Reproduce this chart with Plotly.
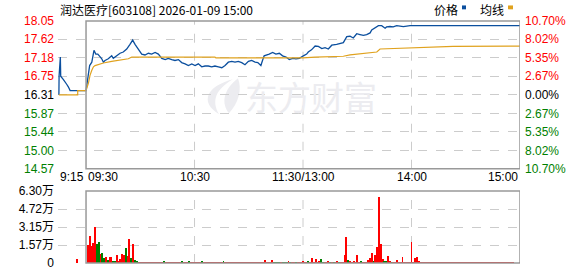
import plotly.graph_objects as go

# ---------------- data ----------------
title_text = "润达医疗[603108] 2026-01-09 15:00"
prev_close = 16.31

# minutes from 09:30 (negative = pre-market 9:15-9:30; afternoon continues 120..240)
price_time = [-15, -14.9, -14.2, -14.0, -12.5, -11.6, -10.7, -9.8, -8.8, 0,
              1.3, 2, 3.2, 3.7, 4.4, 5.4, 6.5, 7.7, 8.7, 9.6, 10.5, 12.3, 14.2, 15.1, 17.0,
              18.8, 20.6, 22.5, 24.3, 25.8, 27.1, 28.9, 30.8, 32.6, 34.5, 36.3, 38.2, 40.0,
              41.9, 43.8, 45.5, 47.4, 49.2, 51.1, 52.9, 54.8, 56.6, 58.5, 60.3, 62.1, 64.0,
              65.8, 67.6, 69.5, 71.3, 73.2, 75.1, 76.9, 78.7, 80.6, 82.4, 84.2, 86.1, 87.9,
              89.8, 91.6, 93.5, 95, 96.7, 97.6, 98.5, 101.3, 103.2, 105, 106.9, 108.7, 110.6,
              112.4, 114.3, 116.1, 118, 120.2, 122.0, 122.9, 124.7, 126.7, 128.5, 130.4, 132.2,
              134.0, 135.9, 138.6, 140.5, 142.3, 144.2, 146.0, 147.8, 149.7, 151.5, 153.4,
              155.2, 157.1, 158.0, 159.8, 161.7, 163.5, 165.4, 166.2, 168.1, 169.9, 171.8,
              175.5, 179.2, 240]
price_vals = [16.31, 16.75, 17.20, 16.75, 16.67, 16.60, 16.56, 16.50, 16.41, 16.41,
              16.85, 17.00, 17.08, 17.23, 17.36, 17.27, 17.27, 17.21, 17.16, 17.08, 17.12, 17.16, 17.23, 17.17, 17.23,
              17.29, 17.32, 17.39, 17.50, 17.60, 17.50, 17.39, 17.27, 17.25, 17.29, 17.27, 17.31, 17.27,
              17.17, 17.14, 17.17, 17.14, 17.12, 17.14, 17.07, 17.04, 17.00, 17.04, 17.00, 17.04, 16.97,
              16.99, 16.99, 16.97, 16.99, 16.97, 16.95, 17.00, 17.08, 17.10, 17.08, 17.10, 17.07, 17.02,
              17.10, 17.12, 17.08, 17.07, 17.00, 17.12, 17.23, 17.27, 17.31, 17.27, 17.29, 17.23, 17.20,
              17.14, 17.17, 17.16, 17.17, 17.23, 17.27, 17.32, 17.37, 17.46, 17.45, 17.40, 17.42,
              17.39, 17.48, 17.50, 17.52, 17.54, 17.68, 17.69, 17.65, 17.75, 17.73, 17.71,
              17.73, 17.77, 17.84, 17.88, 17.94, 17.94, 17.88, 17.91, 17.92, 17.91, 17.94,
              17.92, 17.94, 17.94]

avg_time = [-15, -4.6, -4.6, 0, 1.3, 2.2, 3.2, 4.1, 5, 6.8, 9.6, 14.2, 19.7, 23.4, 25.3,
            71.3, 71.8, 120, 126.7, 142.3, 146, 153.4, 160.8, 162.6, 179.2, 203, 240]
avg_vals = [16.31, 16.31, 16.41, 16.41, 16.58, 16.77, 16.89, 16.97, 17.00, 17.03, 17.06, 17.10,
            17.13, 17.16, 17.20, 17.20, 17.18, 17.18, 17.20, 17.22, 17.25, 17.29, 17.32, 17.39,
            17.42, 17.45, 17.46]

price_ticks = [18.05, 17.62, 17.18, 16.75, 16.31, 15.87, 15.44, 15.00, 14.57]
price_tick_text = ["18.05", "17.62", "17.18", "16.75", "16.31", "15.87", "15.44", "15.00", "14.57"]
pct_tick_text = ["10.70%", "8.02%", "5.35%", "2.67%", "0.00%", "2.67%", "5.35%", "8.02%", "10.70%"]

vol_ticks = [0, 1.575, 3.15, 4.725, 6.30]
vol_tick_text = ["0", "1.57万", "3.15万", "4.72万", "6.30万"]

time_tick_vals = [-15.5, 0, 60, 120, 180, 240]
time_tick_text = ["9:15", "09:30", "10:30", "11:30/13:00", "14:00", "15:00"]

# volume (万手) per minute, minutes 1..240, plus one pre-market bar
pre_vol_time = [-5]
pre_vol = [0.34]
pre_vol_dir = "r"
volume = [1.56, 2.33, 1.48, 1.76, 3.18, 1.65, 1.79, 0.80, 0.85, 0.43,
          0.51, 0.23, 0.51, 0.51, 0.20, 0.20, 0.71, 0.20, 0.34, 0.77,
          0.71, 1.28, 0.62, 2.13, 0.43, 1.62, 0.23, 0.17, 0.08, 0.07,
          0.08, 0.08, 0.07, 0.08, 0.08, 0.07, 0.08, 0.08, 0.07, 0.08,
          0.08, 0.08, 0.13, 0.08, 0.07, 0.08, 0.08, 0.07, 0.08, 0.08,
          0.08, 0.08, 0.13, 0.08, 0.08, 0.08, 0.13, 0.08, 0.07, 0.08,
          0.08, 0.08, 0.07, 0.12, 0.08, 0.08, 0.07, 0.08, 0.08, 0.07,
          0.08, 0.07, 0.08, 0.08, 0.07, 0.10, 0.08, 0.08, 0.07, 0.08,
          0.08, 0.07, 0.08, 0.08, 0.07, 0.08, 0.08, 0.07, 0.08, 0.08,
          0.07, 0.08, 0.08, 0.07, 0.08, 0.08, 0.07, 0.08, 0.23, 0.08,
          0.07, 0.08, 0.28, 0.08, 0.07, 0.08, 0.08, 0.07, 0.08, 0.08,
          0.08, 0.10, 0.08, 0.07, 0.08, 0.08, 0.07, 0.08, 0.08, 0.17,
          0.08, 0.08, 0.17, 0.08, 0.40, 0.08, 0.34, 0.08, 0.17, 0.34,
          0.08, 0.08, 0.08, 0.17, 0.08, 0.08, 0.08, 0.08, 0.17, 0.08,
          0.08, 0.08, 0.68, 2.30, 0.26, 0.17, 0.08, 0.17, 0.08, 0.68,
          0.08, 0.10, 0.08, 0.08, 0.08, 0.26, 0.43, 0.85, 0.10, 0.68,
          1.36, 5.79, 1.70, 0.34, 0.17, 0.17, 0.60, 0.17, 0.08, 0.08,
          0.08, 0.26, 0.08, 0.08, 0.51, 0.08, 0.08, 0.08, 0.08, 1.87,
          0.08, 0.43, 0.51, 0.17, 0.08, 0.08, 0.08, 0.08, 0.08, 0.08,
          0.08, 0.07, 0.08, 0.08, 0.07, 0.08, 0.08, 0.07, 0.08, 0.08,
          0.07, 0.08, 0.08, 0.07, 0.08, 0.08, 0.07, 0.08, 0.08, 0.07,
          0.08, 0.08, 0.07, 0.08, 0.08, 0.07, 0.08, 0.08, 0.07, 0.08,
          0.08, 0.07, 0.08, 0.08, 0.07, 0.08, 0.08, 0.07, 0.08, 0.08,
          0.07, 0.08, 0.08, 0.07, 0.08, 0.08, 0.0, 0.0, 0.0, 0.08]
vol_dir = ("rrrrrggrgg" "rgrrggrrrr" "rgrrgrggrr" "rrrrrrrrrr" "rrgrrrrrrr" "rrgrrrgrrr"
           "rrrgrrrrrr" "rrrrrgrrrr" "rrrrrrrrrr" "rrrrrrrrrr" "rrrggggrgg" "grgrrgrrrr"
           "rrgrrrrrrg" "grrrgrgrrg" "rrrrgrrrrr" "rgrrrrrrgr" "rrrrggrrgr" "rrrrrrrrrr"
           "rrrrrrrrrr" "rrrrrrrrrr" "rrrrrrrrrr" "rrrrrrrrrr" "rrrrrrrrrr" "rrrrrrrrrr")

# ---------------- styling ----------------
FONT = "Arial, 'Liberation Sans', 'Noto Sans CJK SC', sans-serif"
CJK = "'Noto Sans CJK SC', Arial, sans-serif"
RED, GREEN, BLACK = "#ff0000", "#008000", "#000000"
BLUE_LINE, AVG_LINE = "#0b4f9e", "#e0a21e"
GRID = "#cccccc"
BORDER = "#999999"
WATERMARK = "#ececf0"

W, H = 578, 276
ML, MR, MT, MB = 58, 58, 21, 6
PW, PH = W - ML - MR, H - MT - MB


def px_x(px):
    return (px - ML) / PW


def px_y(py):
    return (H - MB - py) / PH


def tick_color(i, n):
    mid = n // 2
    return RED if i < mid else (BLACK if i == mid else GREEN)


left_text = [f'<span style="color:{tick_color(i, len(price_tick_text))}">{t}</span>'
             for i, t in enumerate(price_tick_text)]
right_text = [f'<span style="color:{tick_color(i, len(pct_tick_text))}">{t}</span>'
              for i, t in enumerate(pct_tick_text)]

vol_x = pre_vol_time + list(range(1, len(volume) + 1))
vol_y = pre_vol + volume
vol_c = [RED if d == "r" else GREEN for d in (pre_vol_dir + vol_dir)]

fig = go.Figure()
fig.add_trace(go.Scatter(x=price_time, y=price_vals, mode="lines",
                         line=dict(color=BLUE_LINE, width=1.3), xaxis="x", yaxis="y",
                         hoverinfo="skip", showlegend=False))
fig.add_trace(go.Scatter(x=avg_time, y=avg_vals, mode="lines",
                         line=dict(color=AVG_LINE, width=1.2), xaxis="x", yaxis="y",
                         hoverinfo="skip", showlegend=False))
fig.add_trace(go.Scatter(x=[0], y=[prev_close], mode="markers", opacity=0,
                         xaxis="x", yaxis="y2", hoverinfo="skip", showlegend=False))
fig.add_trace(go.Bar(x=vol_x, y=vol_y, marker=dict(color=vol_c, line=dict(width=0)),
                     width=0.5, xaxis="x2", yaxis="y3", hoverinfo="skip", showlegend=False))

xrange = [-15.5, 240]
main_dom = [px_y(173), 1.0]
vol_dom = [0.0, px_y(196)]

fig.update_layout(
    width=W, height=H,
    margin=dict(l=ML, r=MR, t=MT, b=MB, pad=0),
    paper_bgcolor="white", plot_bgcolor="white",
    font=dict(family=FONT, size=12, color=BLACK),
    bargap=0,
    xaxis=dict(domain=[0, 1], range=xrange, anchor="y", showgrid=False, zeroline=False,
               showticklabels=False, ticks="", showline=False, fixedrange=True),
    yaxis=dict(domain=main_dom, range=[price_ticks[-1], price_ticks[0]], anchor="x",
               tickvals=price_ticks, ticktext=left_text, showgrid=True, gridcolor=GRID,
               griddash="dash", gridwidth=1, zeroline=False, ticks="", showline=False,
               tickfont=dict(size=12, family=FONT), ticklabelstandoff=3),
    yaxis2=dict(overlaying="y", side="right", anchor="x", range=[price_ticks[-1], price_ticks[0]],
                tickvals=price_ticks, ticktext=right_text, showgrid=False, zeroline=False,
                ticks="", showline=False, tickfont=dict(size=12, family=FONT), ticklabelstandoff=4),
    xaxis2=dict(domain=[0, 1], range=xrange, anchor="y3", showgrid=False, zeroline=False,
                showticklabels=False, ticks="", showline=False),
    yaxis3=dict(domain=vol_dom, range=[0, vol_ticks[-1]], anchor="x2",
                tickvals=vol_ticks, ticktext=vol_tick_text, showgrid=True, gridcolor=GRID,
                griddash="dash", gridwidth=1, zeroline=False, ticks="", showline=False,
                tickfont=dict(size=12, family=FONT, color=BLACK), ticklabelstandoff=3),
)


def ppath(points):
    # build a closed path (cubic segments) in paper coords from pixel points
    s = "M {:.4f},{:.4f}".format(px_x(points[0][0]), px_y(points[0][1]))
    rest = points[1:]
    for i in range(0, len(rest), 3):
        c1, c2, e = rest[i:i + 3]
        s += " C {:.4f},{:.4f} {:.4f},{:.4f} {:.4f},{:.4f}".format(
            px_x(c1[0]), px_y(c1[1]), px_x(c2[0]), px_y(c2[1]), px_x(e[0]), px_y(e[1]))
    return s + " Z"


shapes = []
# watermark logo (two blades)
shapes.append(dict(type="path", xref="paper", yref="paper", layer="below",
                   path=ppath([(233, 81), (207, 88), (199, 104), (219, 117),
                               (211, 103), (216, 91), (233, 81)]),
                   fillcolor=WATERMARK, line=dict(width=0)))
shapes.append(dict(type="path", xref="paper", yref="paper", layer="below",
                   path=ppath([(238, 80), (223, 92), (221, 106), (229, 116),
                               (239, 105), (242, 91), (238, 80)]),
                   fillcolor=WATERMARK, line=dict(width=0)))
for t in time_tick_vals[2:5]:
    shapes.append(dict(type="line", xref="x", yref="y domain", x0=t, x1=t, y0=0, y1=1,
                       line=dict(color=GRID, width=1, dash="dash"), layer="below"))
    shapes.append(dict(type="line", xref="x2", yref="y3 domain", x0=t, x1=t, y0=0, y1=1,
                       line=dict(color=GRID, width=1, dash="dash"), layer="below"))
shapes.append(dict(type="rect", xref="x", yref="y domain", x0=0, x1=240, y0=0, y1=1,
                   line=dict(color=BORDER, width=1.5), layer="above"))
shapes.append(dict(type="rect", xref="x2", yref="y3 domain", x0=0, x1=240, y0=0, y1=1,
                   line=dict(color=BORDER, width=1.5), layer="above"))
# legend swatches
shapes.append(dict(type="rect", xref="paper", yref="paper", x0=px_x(462), x1=px_x(466),
                   y0=px_y(9), y1=px_y(5), fillcolor=BLUE_LINE, line=dict(width=0)))
shapes.append(dict(type="rect", xref="paper", yref="paper", x0=px_x(508), x1=px_x(513),
                   y0=px_y(9), y1=px_y(5), fillcolor=AVG_LINE, line=dict(width=0)))
fig.update_layout(shapes=shapes)

ann = []
anchors = ["left", "left", "center", "center", "center", "right"]
for v, t, a in zip(time_tick_vals, time_tick_text, anchors):
    ann.append(dict(x=v, y=px_y(182), xref="x", yref="paper", text=t, showarrow=False,
                    xanchor=a, yanchor="middle", font=dict(size=12, family=FONT, color=BLACK)))
ann.append(dict(x=0, y=px_y(9), xref="paper", yref="paper", text=title_text, showarrow=False,
                xanchor="left", yanchor="middle", font=dict(size=12, family=CJK, color=BLACK)))
ann.append(dict(x=px_x(432), y=px_y(9), xref="paper", yref="paper", text="价格", showarrow=False,
                xanchor="left", yanchor="middle", font=dict(size=12, family=CJK, color=BLACK)))
ann.append(dict(x=px_x(478), y=px_y(9), xref="paper", yref="paper", text="均线", showarrow=False,
                xanchor="left", yanchor="middle", font=dict(size=12, family=CJK, color=BLACK)))
# watermark text
ann.append(dict(x=px_x(311), y=px_y(98), xref="paper", yref="paper", text="东方财富", showarrow=False,
                xanchor="center", yanchor="middle",
                font=dict(size=33, family=CJK, color=WATERMARK)))
fig.update_layout(annotations=ann)

fig.write_html("out.html")
